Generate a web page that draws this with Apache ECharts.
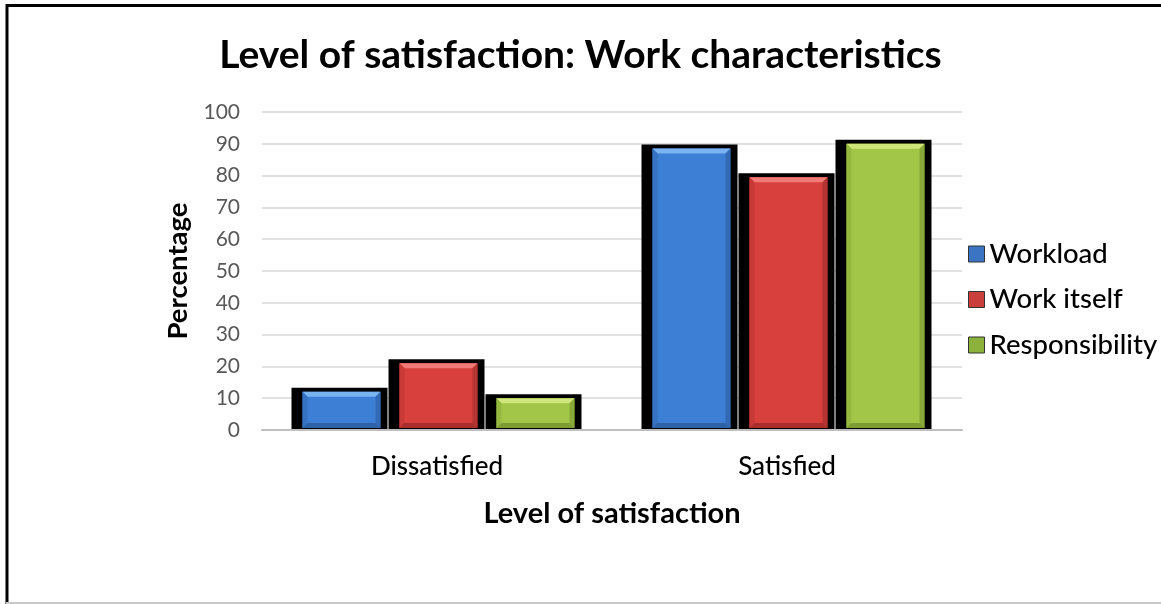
<!DOCTYPE html>
<html>
<head>
<meta charset="utf-8">
<script src="https://cdn.jsdelivr.net/npm/echarts@6/dist/echarts.min.js"></script>
<style>html,body{margin:0;padding:0;background:#fff;}#c{width:1161px;height:604px;}</style>
</head>
<body>
<div id="c"></div>
<script>
const categories = ['Dissatisfied', 'Satisfied'];
const workload = [12, 88.5];
const workItself = [21, 79.5];
const responsibility = [10, 90];
const seriesNames = ['Workload', 'Work itself', 'Responsibility'];
const yTicks = {min: 0, max: 100, interval: 10};

const FONT = 'Lato';
const palettes = [
  {base: '#3d7fd5', light: '#79b4f0', dark: '#2e62a6', side: '#3572c2'},
  {base: '#d8403d', light: '#f07a76', dark: '#a82f2c', side: '#c73a37'},
  {base: '#a2c648', light: '#cfe77a', dark: '#7e9c32', side: '#94b73e'}
];
const legendColors = ['#3a74c2', '#c83f3c', '#8db23b'];
const seriesData = [workload, workItself, responsibility];

function makeRender(si) {
  const pal = palettes[si];
  return function (params, api) {
    const cat = api.value(0), val = api.value(1);
    const top = api.coord([cat, val]);
    const base = api.coord([cat, 0]);
    const band = api.size([1, 0])[0];
    const k = band / 350;
    const slot = 97 * k;
    const groupLeft = top[0] - 1.5 * slot;
    const bl = groupLeft + si * slot;
    const bTop = top[1] - 4;
    const bottom = base[1] - 1;
    const cl = bl + 11 * k, cw = 78 * k;
    const ct = top[1], ch = bottom - 1 - top[1];
    const bev = Math.min(5, ch / 3);
    const children = [
      {type: 'rect', shape: {x: bl, y: bTop, width: slot - 1, height: bottom - bTop}, style: {fill: '#000'}},
      {type: 'rect', shape: {x: cl, y: ct, width: cw, height: ch}, style: {fill: pal.base}},
      {type: 'polygon', shape: {points: [[cl, ct], [cl + cw, ct], [cl + cw - bev, ct + bev], [cl + bev, ct + bev]]}, style: {fill: pal.light}},
      {type: 'polygon', shape: {points: [[cl + cw, ct], [cl + cw, ct + ch], [cl + cw - bev, ct + ch - bev], [cl + cw - bev, ct + bev]]}, style: {fill: pal.dark, opacity: 0.7}},
      {type: 'polygon', shape: {points: [[cl, ct], [cl + bev, ct + bev], [cl + bev, ct + ch - bev], [cl, ct + ch]]}, style: {fill: pal.side}},
      {type: 'polygon', shape: {points: [[cl, ct + ch], [cl + bev, ct + ch - bev], [cl + cw - bev, ct + ch - bev], [cl + cw, ct + ch]]}, style: {fill: pal.dark}}
    ];
    return {type: 'group', children: children};
  };
}

const chart = echarts.init(document.getElementById('c'), null, {renderer: 'canvas'});
chart.setOption({
  backgroundColor: '#fff',
  animation: false,
  textStyle: {fontFamily: FONT},
  title: {
    text: 'Level of satisfaction: Work characteristics',
    left: 'center', top: 31,
    textStyle: {fontFamily: FONT, fontWeight: 'bold', fontSize: 39, color: '#000'}
  },
  legend: {
    orient: 'vertical', left: 963, top: 234,
    itemWidth: 16, itemHeight: 16, itemGap: 15.5,
    icon: 'rect',
    data: seriesNames.map((n, i) => ({name: n, itemStyle: {color: legendColors[i], borderColor: '#333', borderWidth: 1}})),
    textStyle: {fontFamily: FONT, fontSize: 27.5, fontWeight: 500, lineHeight: 30, color: '#000', padding: [0, 0, 0, 0]}
  },
  grid: {left: 262, right: 199, top: 112, bottom: 174},
  xAxis: {
    type: 'category', data: categories,
    name: 'Level of satisfaction', nameLocation: 'middle', nameGap: 69,
    nameTextStyle: {fontFamily: FONT, fontWeight: 'bold', fontSize: 29, color: '#000'},
    axisLine: {lineStyle: {color: '#bfbfbf', width: 2}},
    axisTick: {show: false},
    axisLabel: {fontFamily: FONT, fontSize: 26, fontWeight: 500, color: '#000', margin: 24}
  },
  yAxis: {
    type: 'value', min: yTicks.min, max: yTicks.max, interval: yTicks.interval,
    name: 'Percentage', nameLocation: 'middle', nameGap: 69, nameRotate: 90,
    nameTextStyle: {fontFamily: FONT, fontWeight: 'bold', fontSize: 27.5, color: '#000'},
    axisLine: {show: false}, axisTick: {show: false},
    axisLabel: {fontFamily: FONT, fontSize: 21, color: '#595959', margin: 22},
    splitLine: {lineStyle: {color: '#d9d9d9', width: 1.5}}
  },
  series: seriesNames.map((n, i) => ({
    name: n, type: 'custom',
    itemStyle: {color: legendColors[i]},
    encode: {x: 0, y: 1},
    data: categories.map((c, ci) => [ci, seriesData[i][ci]]),
    renderItem: makeRender(i),
    z: 3
  })),
  graphic: [
    {type: 'line', shape: {x1: 6, y1: 5.5, x2: 1161, y2: 5.5}, style: {stroke: '#000', lineWidth: 3}, z: 100},
    {type: 'line', shape: {x1: 7, y1: 4, x2: 7, y2: 604}, style: {stroke: '#000', lineWidth: 3}, z: 100},
    {type: 'line', shape: {x1: 6, y1: 603, x2: 1161, y2: 603}, style: {stroke: '#c8c8c8', lineWidth: 2}, z: 100}
  ]
});
</script>
</body>
</html>
